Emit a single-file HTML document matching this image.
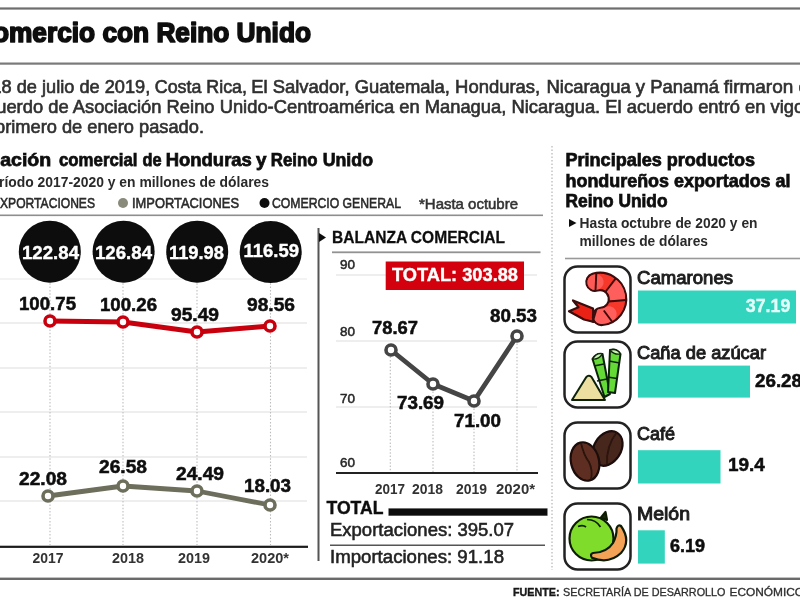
<!DOCTYPE html>
<html lang="es">
<head>
<meta charset="utf-8">
<title>Comercio con Reino Unido</title>
<style>
html,body{margin:0;padding:0;background:#fff;}
body{width:800px;height:600px;overflow:hidden;position:relative;font-family:"Liberation Sans",sans-serif;}
svg{display:block;position:absolute;left:0;top:0;}
text{font-family:"Liberation Sans",sans-serif;fill:#111;}
.b{font-weight:bold;}
.hd{stroke:#111;stroke-width:0.75;}
.p{fill:#303030;font-size:19px;stroke:#303030;stroke-width:0.65;}
.g{stroke:#e9e9e9;stroke-width:1.3;}
.d{stroke:#bdbdbd;stroke-width:1.1;stroke-dasharray:1.5 1.8;}
.yr{font-size:14px;fill:#333;font-weight:bold;}
.v{font-size:18.5px;font-weight:bold;fill:#0a0a0a;stroke:#0a0a0a;stroke-width:0.5;}
.w{font-size:18.5px;font-weight:bold;fill:#fff;stroke:#fff;stroke-width:0.4;}
.lab{font-size:18px;fill:#1c1c1c;stroke:#1c1c1c;stroke-width:0.95;}
</style>
</head>
<body>
<svg width="800" height="600" viewBox="0 0 800 600">
<defs><filter id="soft" x="-2%" y="-2%" width="104%" height="104%"><feGaussianBlur stdDeviation="0.55"/></filter></defs>
<g filter="url(#soft)">
<!-- top rules -->
<rect x="-10" y="7.400" width="820" height="2.200" fill="#6e6e6e"/>
<rect x="-10" y="62.500" width="820" height="2.200" fill="#7a7a7a"/>
<!-- title -->
<text class="b" x="-26" y="42.200" font-size="27.500" textLength="337" lengthAdjust="spacingAndGlyphs" style="fill:#111;stroke:#111;stroke-width:1.7;stroke-linejoin:round">Comercio con Reino Unido</text>
<!-- paragraph -->
<text class="p" x="-8.600" y="93" textLength="158.800" lengthAdjust="spacingAndGlyphs">18 de julio de 2019,</text>
<text class="p" x="154.800" y="93" textLength="92.200" lengthAdjust="spacingAndGlyphs">Costa Rica,</text>
<text class="p" x="251.200" y="93" textLength="289" lengthAdjust="spacingAndGlyphs">El Salvador, Guatemala, Honduras,</text>
<text class="p" x="546.500" y="93" textLength="172.500" lengthAdjust="spacingAndGlyphs">Nicaragua y Panamá</text>
<text class="p" x="723.700" y="93" textLength="69.600" lengthAdjust="spacingAndGlyphs">firmaron</text>
<text class="p" x="798.600" y="93">e</text>
<text class="p" x="-13" y="113" textLength="817.300" lengthAdjust="spacingAndGlyphs">cuerdo de Asociación Reino Unido-Centroamérica en Managua, Nicaragua. El acuerdo entró en vigo</text>
<text class="p" x="-5" y="133" textLength="209" lengthAdjust="spacingAndGlyphs">primero de enero pasado.</text>

<!-- left section headings -->
<text class="b hd" x="-30.200" y="165.600" font-size="18.5" textLength="81.400" lengthAdjust="spacingAndGlyphs">Relación</text>
<text class="b hd" x="59" y="165.600" font-size="18.5" textLength="78.500" lengthAdjust="spacingAndGlyphs">comercial</text>
<text class="b hd" x="142.500" y="165.600" font-size="18.5" textLength="19" lengthAdjust="spacingAndGlyphs">de</text>
<text class="b hd" x="165.800" y="165.600" font-size="18.5" textLength="86" lengthAdjust="spacingAndGlyphs">Honduras</text>
<text class="b hd" x="256" y="165.600" font-size="18.5" textLength="10.500" lengthAdjust="spacingAndGlyphs">y</text>
<text class="b hd" x="270.800" y="165.600" font-size="18.5" textLength="46.700" lengthAdjust="spacingAndGlyphs">Reino</text>
<text class="b hd" x="322.700" y="165.600" font-size="18.5" textLength="50.300" lengthAdjust="spacingAndGlyphs">Unido</text>
<text class="b" x="-18" y="186.500" font-size="14.500" textLength="287" lengthAdjust="spacingAndGlyphs" style="fill:#2a2a2a">Período 2017-2020 y en millones de dólares</text>
<!-- legend -->
<text x="-8" y="208" font-size="14" textLength="103" lengthAdjust="spacingAndGlyphs" style="fill:#2a2a2a;stroke:#2a2a2a;stroke-width:0.55">EXPORTACIONES</text>
<circle cx="123" cy="203" r="5" fill="#8a8a7a"/>
<text x="132" y="208" font-size="14" textLength="107" lengthAdjust="spacingAndGlyphs" style="fill:#2a2a2a;stroke:#2a2a2a;stroke-width:0.55">IMPORTACIONES</text>
<circle cx="264.500" cy="203" r="5" fill="#111"/>
<text x="272" y="208" font-size="14" textLength="129" lengthAdjust="spacingAndGlyphs" style="fill:#2a2a2a;stroke:#2a2a2a;stroke-width:0.55">COMERCIO GENERAL</text>
<text x="419" y="209" font-size="15" textLength="99" lengthAdjust="spacingAndGlyphs" style="fill:#333;stroke:#333;stroke-width:0.55">*Hasta octubre</text>
<rect x="-10" y="214.500" width="553" height="1.600" fill="#8e8e8e"/>

<!-- ===== LEFT CHART ===== -->
<g>
<line class="g" x1="0" y1="279" x2="307" y2="279" style="stroke:#efefef"/>
<line class="g" x1="0" y1="323" x2="307" y2="323"/>
<line class="g" x1="0" y1="368" x2="307" y2="368"/>
<line class="g" x1="0" y1="412" x2="307" y2="412"/>
<line class="g" x1="0" y1="457" x2="307" y2="457"/>
<line class="g" x1="0" y1="501" x2="307" y2="501"/>
<line class="d" x1="50" y1="280" x2="50" y2="545"/>
<line class="d" x1="123" y1="280" x2="123" y2="545"/>
<line class="d" x1="197" y1="280" x2="197" y2="545"/>
<line class="d" x1="270.500" y1="280" x2="270.500" y2="545"/>
<!-- black circles -->
<circle cx="49.800" cy="251.700" r="31" fill="#0a0a0a"/>
<circle cx="123.600" cy="251.700" r="31" fill="#0a0a0a"/>
<circle cx="197.200" cy="251.700" r="31" fill="#0a0a0a"/>
<circle cx="270.700" cy="252" r="31" fill="#0a0a0a"/>
<text class="w" x="22" y="259" textLength="57" lengthAdjust="spacingAndGlyphs">122.84</text>
<text class="w" x="95" y="259" textLength="57" lengthAdjust="spacingAndGlyphs">126.84</text>
<text class="w" x="169" y="259" textLength="55" lengthAdjust="spacingAndGlyphs">119.98</text>
<text class="w" x="243.500" y="257" textLength="55.500" lengthAdjust="spacingAndGlyphs">116.59</text>
<!-- red line -->
<polyline points="50,321 123,322 197,332 270,326" fill="none" stroke="#c80510" stroke-width="4.8" stroke-linejoin="round"/>
<circle cx="50" cy="321" r="5" fill="#fff" stroke="#c80510" stroke-width="3.6"/>
<circle cx="123" cy="322" r="5" fill="#fff" stroke="#c80510" stroke-width="3.6"/>
<circle cx="197" cy="332" r="5" fill="#fff" stroke="#c80510" stroke-width="3.6"/>
<circle cx="270" cy="326" r="5" fill="#fff" stroke="#c80510" stroke-width="3.6"/>
<text class="v" x="19" y="310" textLength="57" lengthAdjust="spacingAndGlyphs">100.75</text>
<text class="v" x="100" y="311" textLength="57" lengthAdjust="spacingAndGlyphs">100.26</text>
<text class="v" x="171" y="321" textLength="48" lengthAdjust="spacingAndGlyphs">95.49</text>
<text class="v" x="247" y="311" textLength="48" lengthAdjust="spacingAndGlyphs">98.56</text>
<!-- gray line -->
<polyline points="48,496 123,486 197,491 270,505" fill="none" stroke="#6e6e5c" stroke-width="4.8" stroke-linejoin="round"/>
<circle cx="48" cy="496" r="5" fill="#fff" stroke="#6e6e5c" stroke-width="3.6"/>
<circle cx="123" cy="486" r="5" fill="#fff" stroke="#6e6e5c" stroke-width="3.6"/>
<circle cx="197" cy="491" r="5" fill="#fff" stroke="#6e6e5c" stroke-width="3.6"/>
<circle cx="270" cy="505" r="5" fill="#fff" stroke="#6e6e5c" stroke-width="3.6"/>
<text class="v" x="19" y="485" textLength="48" lengthAdjust="spacingAndGlyphs">22.08</text>
<text class="v" x="99" y="473" textLength="48" lengthAdjust="spacingAndGlyphs">26.58</text>
<text class="v" x="176" y="480" textLength="48" lengthAdjust="spacingAndGlyphs">24.49</text>
<text class="v" x="244" y="492" textLength="47" lengthAdjust="spacingAndGlyphs">18.03</text>
<!-- axis -->
<rect x="-10" y="545.700" width="318" height="2.200" fill="#1a1a1a"/>
<text class="yr" x="32.500" y="563" textLength="31" lengthAdjust="spacingAndGlyphs">2017</text>
<text class="yr" x="112" y="563" textLength="32" lengthAdjust="spacingAndGlyphs">2018</text>
<text class="yr" x="178" y="563" textLength="32" lengthAdjust="spacingAndGlyphs">2019</text>
<text class="yr" x="251" y="563" textLength="38" lengthAdjust="spacingAndGlyphs">2020*</text>
</g>

<!-- ===== BALANZA COMERCIAL ===== -->
<g>
<rect x="317.500" y="228" width="2" height="333" fill="#555"/>
<polygon points="319,233 326,237.500 319,242" fill="#111"/>
<text class="b" x="332" y="242.700" font-size="17" textLength="173" style="stroke:#111;stroke-width:0.3" lengthAdjust="spacingAndGlyphs">BALANZA COMERCIAL</text>
<rect x="332" y="251.400" width="208.500" height="1.800" fill="#929292"/>
<line class="g" x1="336" y1="275" x2="537" y2="275"/>
<line class="g" x1="336" y1="341" x2="537" y2="341"/>
<line class="g" x1="336" y1="407" x2="537" y2="407"/>
<line class="d" x1="390.300" y1="350" x2="390.300" y2="473"/>
<line class="d" x1="433" y1="385" x2="433" y2="473"/>
<line class="d" x1="474" y1="402" x2="474" y2="473"/>
<line class="d" x1="517" y1="337" x2="517" y2="473"/>
<text x="340" y="269.300" font-size="13.5" textLength="15" lengthAdjust="spacingAndGlyphs" style="fill:#262626;stroke:#262626;stroke-width:0.5">90</text>
<text x="340" y="335.600" font-size="13.5" textLength="15" lengthAdjust="spacingAndGlyphs" style="fill:#262626;stroke:#262626;stroke-width:0.5">80</text>
<text x="340" y="402.500" font-size="13.5" textLength="15" lengthAdjust="spacingAndGlyphs" style="fill:#262626;stroke:#262626;stroke-width:0.5">70</text>
<text x="340" y="466.700" font-size="13.5" textLength="15" lengthAdjust="spacingAndGlyphs" style="fill:#262626;stroke:#262626;stroke-width:0.5">60</text>
<rect x="385.700" y="261.500" width="138.300" height="28.500" fill="#d3060f"/>
<text class="w" x="392" y="281.300" font-size="17" textLength="126" lengthAdjust="spacingAndGlyphs">TOTAL: 303.88</text>
<polyline points="391,350 433,384 474,401 517,336" fill="none" stroke="#444" stroke-width="4.8" stroke-linejoin="round"/>
<circle cx="391" cy="350" r="5" fill="#fff" stroke="#444" stroke-width="3.6"/>
<circle cx="433" cy="384" r="5" fill="#fff" stroke="#444" stroke-width="3.6"/>
<circle cx="474" cy="401" r="5" fill="#fff" stroke="#444" stroke-width="3.6"/>
<circle cx="517" cy="336" r="5" fill="#fff" stroke="#444" stroke-width="3.6"/>
<text class="v" x="372" y="334" textLength="46" lengthAdjust="spacingAndGlyphs">78.67</text>
<text class="v" x="397" y="409" textLength="47" lengthAdjust="spacingAndGlyphs">73.69</text>
<text class="v" x="454" y="427" textLength="47" lengthAdjust="spacingAndGlyphs">71.00</text>
<text class="v" x="490" y="322" textLength="47" lengthAdjust="spacingAndGlyphs">80.53</text>
<rect x="336" y="472" width="202" height="2" fill="#222"/>
<text class="yr" x="375" y="494" textLength="30" lengthAdjust="spacingAndGlyphs">2017</text>
<text class="yr" x="412" y="494" textLength="31" lengthAdjust="spacingAndGlyphs">2018</text>
<text class="yr" x="456" y="494" textLength="31" lengthAdjust="spacingAndGlyphs">2019</text>
<text class="yr" x="496" y="494" textLength="39" lengthAdjust="spacingAndGlyphs">2020*</text>
<text class="b" x="326.500" y="514.200" font-size="18.500" textLength="57" style="stroke:#111;stroke-width:0.4" lengthAdjust="spacingAndGlyphs">TOTAL</text>
<rect x="388.500" y="508.400" width="159" height="7.300" fill="#111"/>
<text x="330" y="536" font-size="18" textLength="184" lengthAdjust="spacingAndGlyphs" style="fill:#222;stroke:#222;stroke-width:0.55">Exportaciones: 395.07</text>
<rect x="330" y="544.500" width="215" height="1.5" fill="#555"/>
<text x="330" y="562.700" font-size="18" textLength="174" lengthAdjust="spacingAndGlyphs" style="fill:#222;stroke:#222;stroke-width:0.55">Importaciones: 91.18</text>
</g>
<!-- bottom rule + source -->
<rect x="-10" y="577.600" width="820" height="2.400" fill="#6a6a6a"/>
<text class="b" x="513" y="595.800" font-size="11.500" textLength="46.500" lengthAdjust="spacingAndGlyphs" style="fill:#1a1a1a;stroke:#1a1a1a;stroke-width:0.4">FUENTE:</text>
<text x="563" y="595.800" font-size="11.500" textLength="162.500" lengthAdjust="spacingAndGlyphs" style="fill:#2e2e2e;stroke:#2e2e2e;stroke-width:0.3">SECRETARÍA DE DESARROLLO</text>
<text x="729.500" y="595.800" font-size="11.500" textLength="74.500" lengthAdjust="spacingAndGlyphs" style="fill:#2e2e2e;stroke:#2e2e2e;stroke-width:0.3">ECONÓMICO</text>

<!-- ===== RIGHT PANEL ===== -->
<g>
<line x1="552" y1="146" x2="552" y2="570" stroke="#c4c4c4" stroke-width="1.5" stroke-dasharray="1.5 2"/>
<text class="b hd" x="565.500" y="166" font-size="18.5" textLength="189.500" lengthAdjust="spacingAndGlyphs">Principales productos</text>
<text class="b hd" x="565.500" y="187" font-size="18.5" textLength="225" lengthAdjust="spacingAndGlyphs">hondureños exportados al</text>
<text class="b hd" x="565.500" y="207" font-size="18.5" textLength="102" lengthAdjust="spacingAndGlyphs">Reino Unido</text>
<polygon points="569,219 576.500,223 569,227" fill="#111"/>
<text class="b" x="579.500" y="227.500" font-size="14.500" textLength="178" lengthAdjust="spacingAndGlyphs" style="fill:#2a2a2a">Hasta octubre de 2020 y en</text>
<text class="b" x="579.500" y="246.200" font-size="14.500" textLength="128.500" lengthAdjust="spacingAndGlyphs" style="fill:#2a2a2a">millones de dólares</text>
<rect x="565" y="257.700" width="245" height="1.600" fill="#999"/>

<!-- icon frames -->
<rect x="564.500" y="266.500" width="66" height="66" rx="13" fill="#fff" stroke="#222" stroke-width="2.500"/>
<rect x="564.500" y="341.500" width="66" height="66" rx="13" fill="#fff" stroke="#222" stroke-width="2.500"/>
<rect x="564.500" y="422.500" width="66" height="66" rx="13" fill="#fff" stroke="#222" stroke-width="2.500"/>
<rect x="564.500" y="503.500" width="66" height="66" rx="13" fill="#fff" stroke="#222" stroke-width="2.500"/>

<!-- bars -->
<rect x="638" y="290.500" width="158" height="33" fill="#30d4bd"/>
<rect x="638" y="365.600" width="112" height="32" fill="#30d4bd"/>
<rect x="638" y="450.200" width="82.500" height="33.300" fill="#30d4bd"/>
<rect x="638" y="530.300" width="26.800" height="33.300" fill="#30d4bd"/>

<text class="lab" x="637" y="284" textLength="96" lengthAdjust="spacingAndGlyphs">Camarones</text>
<text class="lab" x="637" y="359" textLength="129" lengthAdjust="spacingAndGlyphs">Caña de azúcar</text>
<text class="lab" x="637" y="440" textLength="38" lengthAdjust="spacingAndGlyphs">Café</text>
<text class="lab" x="637" y="520" textLength="53" lengthAdjust="spacingAndGlyphs">Melón</text>

<text class="w" x="745.800" y="312.200" font-size="17.500" textLength="44.500" lengthAdjust="spacingAndGlyphs" style="fill:#e2fff9;stroke:#e2fff9">37.19</text>
<text class="v" x="755" y="387" textLength="47" lengthAdjust="spacingAndGlyphs">26.28</text>
<text class="v" x="728" y="471.400" textLength="36.800" lengthAdjust="spacingAndGlyphs">19.4</text>
<text class="v" x="670" y="552" textLength="35" lengthAdjust="spacingAndGlyphs">6.19</text>
</g>

<!-- ===== ICONS ===== -->
<!-- shrimp -->
<g stroke-linejoin="round">
<path d="M593,308.500 L573,300.500 L578.500,307.300 L569,311.300 L584,319.500 L594,322 Z" fill="#ea2418" stroke="#3a0808" stroke-width="2.200"/>
<path d="M595,282.200 A17.5,17.5 0 1 1 601.500,316.400" fill="none" stroke="#3a0808" stroke-width="19.500" stroke-linecap="round"/>
<path d="M595,282.200 A17.5,17.5 0 1 1 601.500,316.400" fill="none" stroke="#f6382c" stroke-width="15.300" stroke-linecap="round"/>
<path d="M595,282.200 A17.5,17.5 0 0 1 596,282" fill="none" stroke="#fb5a55" stroke-width="15.300" stroke-linecap="round"/>
<path d="M611.500,285.800 A17.5,17.5 0 0 1 617.500,300.500" fill="none" stroke="#ff5f5c" stroke-width="15.300"/>
<path d="M609,314 A17.5,17.5 0 0 1 601.500,316.400" fill="none" stroke="#ff5f5c" stroke-width="15.300" stroke-linecap="round"/>
<g fill="none" stroke="#3a0808" stroke-width="1.900">
<line x1="596.300" y1="273.500" x2="595.500" y2="290.500"/>
<line x1="605" y1="292.500" x2="615.500" y2="278.500"/>
<line x1="608.500" y1="301.500" x2="626" y2="300"/>
<line x1="603.800" y1="310.500" x2="612" y2="321.500"/>
<line x1="596.500" y1="309" x2="592.500" y2="322.500"/>
</g>
</g>
<!-- sugar cane -->
<g stroke="#10240a" stroke-width="2" stroke-linejoin="round">
<path d="M592.500,359 Q596,353 602.500,354 L610,394 L604.500,397 Z" fill="#63da35"/>
<path d="M610,350 Q616,348 620.500,354 L615,393 L608,392 Z" fill="#63da35"/>
<path d="M592.500,359 Q598,360 602.500,354 Q597,352 592.500,359 Z" fill="#c9f5b4" stroke-width="1.300"/>
<path d="M610,350 Q614,355 620.500,354 Q617,348 610,350 Z" fill="#c9f5b4" stroke-width="1.300"/>
<path d="M594,366 L604,364 M597,381 L607,379 M609,361 L619.500,363 M607.500,377 L617,378.500" fill="none" stroke-width="1.600"/>
<path d="M572,400 L586,377.500 Q588.500,374.500 591.500,377 L605,400 Z" fill="#ecdf9f"/>
</g>
<!-- coffee -->
<g stroke="#1c0a07" stroke-width="2.200">
<ellipse cx="607.500" cy="448.500" rx="13.500" ry="18.500" transform="rotate(32 607.500 448.500)" fill="#47251f"/>
<path d="M617,432 Q606,446 607,465" fill="none" stroke="#2a120d" stroke-width="1.800"/>
<ellipse cx="585" cy="461.500" rx="14" ry="19.500" transform="rotate(-14 585 461.500)" fill="#5f2f22"/>
<path d="M581,443 Q584,456 589,462 Q593,470 591,480" fill="none" stroke="#2a120d" stroke-width="1.800"/>
</g>
<!-- melon -->
<g stroke="#0f1e06" stroke-width="2.200" stroke-linejoin="round">
<path d="M601,517.500 L605.500,512 L607,520 Z" fill="#1a2a10"/>
<circle cx="591.500" cy="538.500" r="22" fill="#80dc2c"/>
<path d="M578,526.500 Q583,524.500 586,527 M587,519.500 Q596,519.500 600.500,527" fill="none" stroke-width="1.700"/>
<path d="M621,526 Q631.500,541 621,553 Q609,564.500 592,557.800 Q589.500,554 593,553 Q607,552.500 613,543 Q617,535 616.500,528.500 Q618,524 621,526 Z" fill="#f4a257"/>
</g>
</g>
</svg>
</body>
</html>
